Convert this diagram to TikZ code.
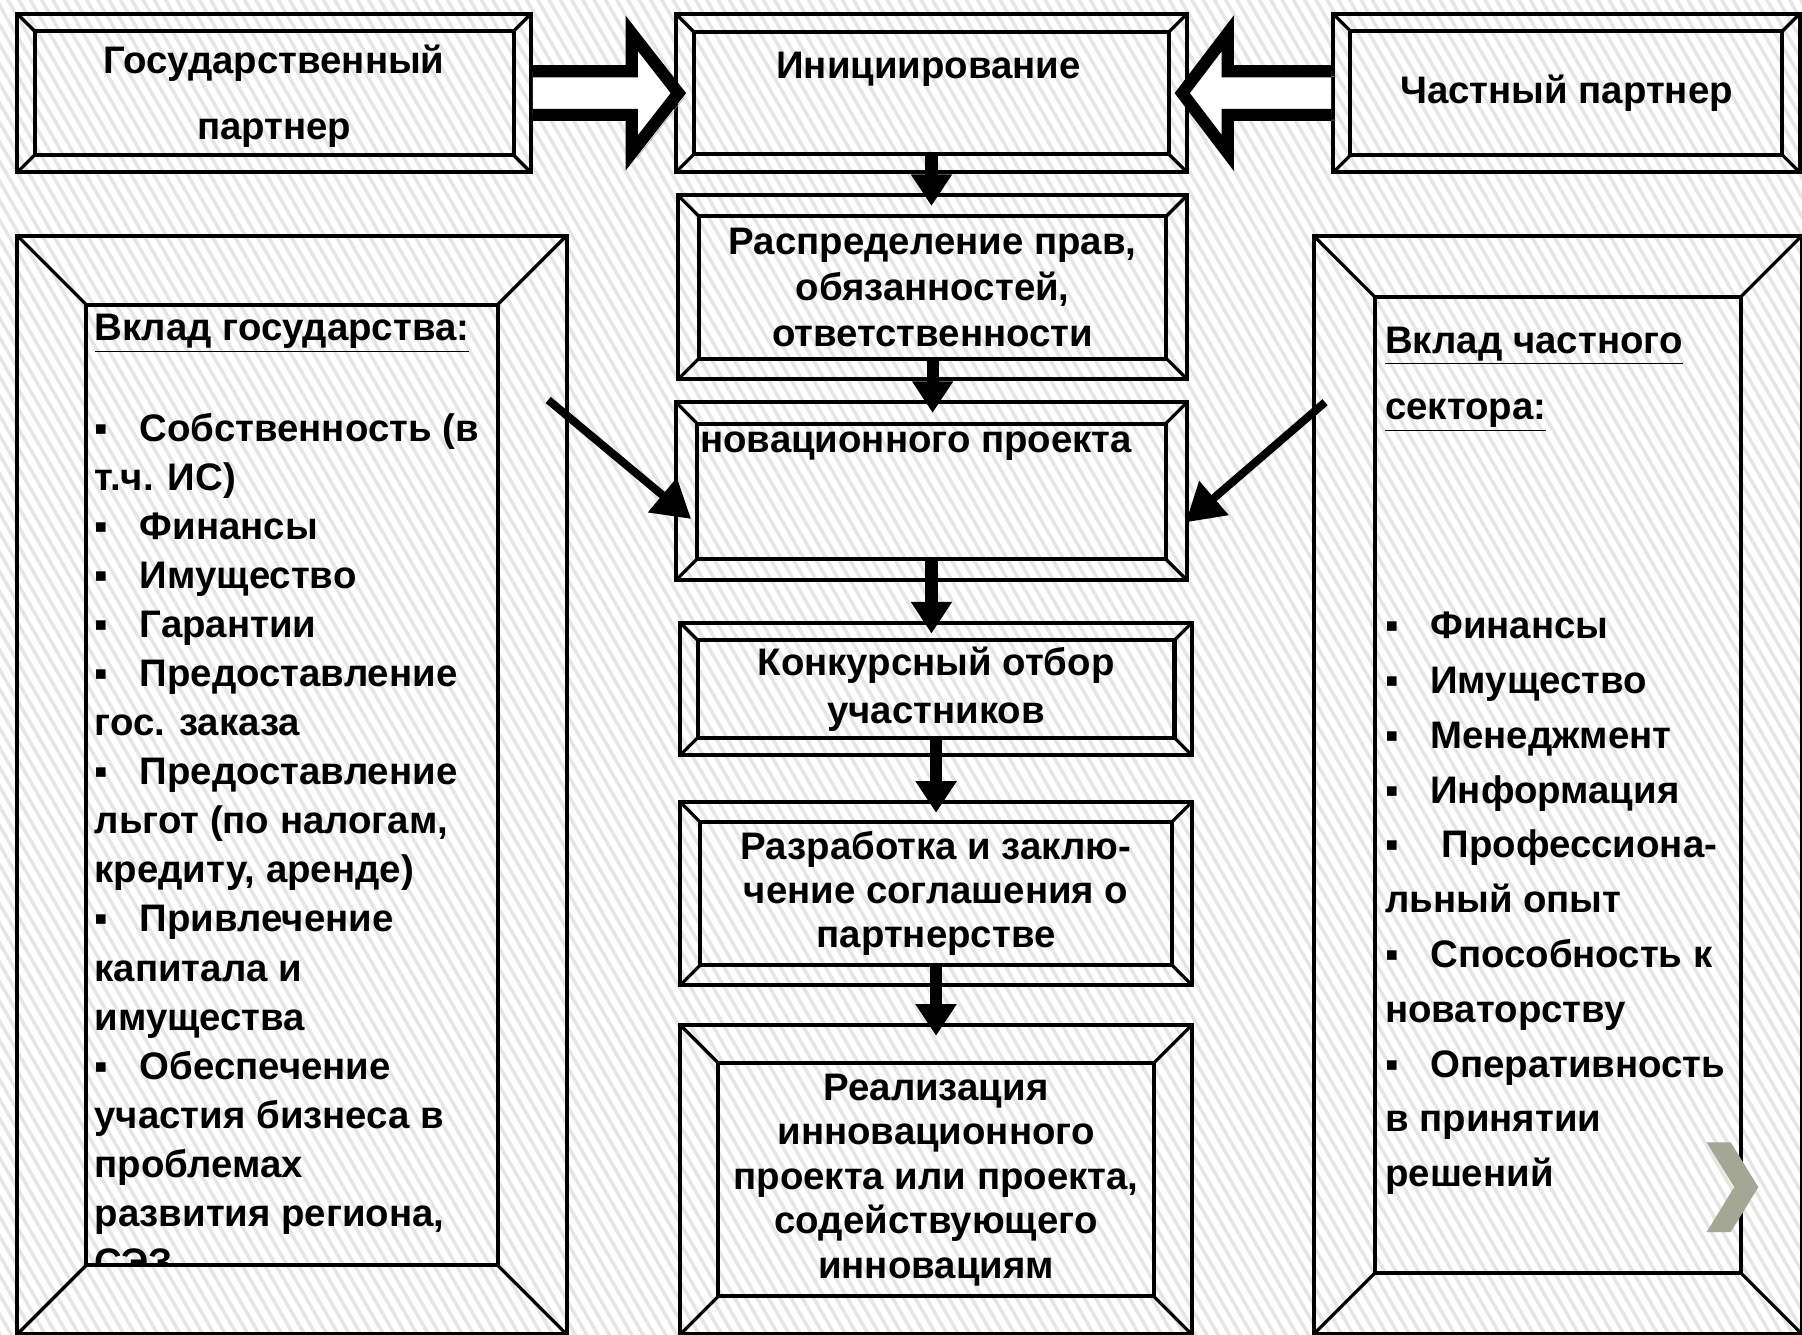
\documentclass[tikz,border=0pt]{standalone}
\usepackage{fontspec}
\setmainfont{Liberation Sans}
\usetikzlibrary{arrows.meta,patterns.meta}
\definecolor{chevron}{HTML}{A4A793}
\definecolor{shade}{HTML}{8C9BB4}
\newcommand{\blt}{▪\hspace{0.55cm}}

\begin{document}
\begin{tikzpicture}[x=0.02cm,y=-0.02cm,
	txt/.style={font=\bfseries\fontsize{19pt}{#1}\selectfont},
	bevelbox/.style={draw, line width=2pt, inner sep=0pt, align=center,
		path picture={
			\draw[line width=2pt] ([shift={(#1,#1)}]path picture bounding box.south west) rectangle ([shift={(-#1,-#1)}]path picture bounding box.north east);
			\draw[line width=1.6pt] (path picture bounding box.south west) -- ++(#1,#1)
				(path picture bounding box.north east) -- ++(-#1,-#1)
				(path picture bounding box.north west) -- ++(#1,-#1)
				(path picture bounding box.south east) -- ++(-#1,#1);}},
	downarrow/.style={line width=6pt, -{Triangle[width=0.68cm,length=0.55cm]}},
	diagarrow/.style={line width=4pt, -{Triangle[width=0.75cm,length=0.65cm]}},
	hollowarrow/.style={draw, line width=6pt, fill=white, line join=miter,
		preaction={draw=shade, opacity=0.6, transform canvas={shift={(0.09cm,-0.09cm)}}}}]

	\useasboundingbox (0,0) rectangle (1568,1161);
	\fill[white] (0,0) rectangle (1568,1161);
	\fill[pattern={Lines[angle=-60,distance=0.17cm,line width=0.06cm]}, pattern color=gray!20] (0,0) rectangle (1568,1161);

	% top row
	\node[bevelbox=0.3cm, minimum width=8.94cm, minimum height=2.76cm, txt=1.16cm] (gos) at (238.5,81) {\rule{0pt}{0.6cm}Государственный\\партнер};
	\node[bevelbox=0.32cm, minimum width=8.9cm, minimum height=2.76cm] (ini) at (810.5,81) {};
	\node[txt=0.8cm] (tIni) at (808,60) {Инициирование};
	\node[bevelbox=0.3cm, minimum width=8.12cm, minimum height=2.76cm, txt=0.8cm] (priv) at (1363,81) {Частный партнер};

	% middle column
	\node[bevelbox=0.36cm, minimum width=8.86cm, minimum height=3.2cm, txt=0.8cm] (rasp) at (811.5,250) {Распределение прав,\\обязанностей,\\ответственности};
	\node[bevelbox=0.37cm, minimum width=8.9cm, minimum height=3.1cm] (nov) at (810.5,427.5) {};
	\node[txt=0.8cm, anchor=base west, inner sep=0pt] (tNov) at (609,394) {новационного проекта};
	\node[bevelbox=0.3cm, minimum width=8.9cm, minimum height=2.3cm, txt=0.84cm] (konk) at (814.5,599.5) {Конкурсный отбор\\участников};
	\node[bevelbox=0.34cm, minimum width=8.9cm, minimum height=3.18cm, txt=0.77cm] (razr) at (814.5,777.5) {Разработка и заклю-\\чение соглашения о\\партнерстве};
	\node[bevelbox=0.66cm, minimum width=8.9cm, minimum height=5.38cm, txt=0.775cm] (real) at (814.5,1026.5) {Реализация\\инновационного\\проекта или проекта,\\содействующего\\инновациям};

	% side boxes
	\node[bevelbox=1.2cm, minimum width=9.56cm, minimum height=19.12cm] (gosVk) at (254,683) {};
	\node[bevelbox=1.06cm, minimum width=8.5cm, minimum height=19.12cm] (privVk) at (1355.5,683) {};
	\begin{scope}
		\clip (78,263) rectangle (433,1100);
		\node[txt=0.854cm, anchor=north west, align=left, inner sep=0pt] (tGosVk) at (82,273) {\underline{Вклад государства:}\\[0.9cm]
			\blt Собственность (в\\
			т.ч. ИС)\\
			\blt Финансы\\
			\blt Имущество\\
			\blt Гарантии\\
			\blt Предоставление\\
			гос. заказа\\
			\blt Предоставление\\
			льгот (по налогам,\\
			кредиту, аренде)\\
			\blt Привлечение\\
			капитала и\\
			имущества\\
			\blt Обеспечение\\
			участия бизнеса в\\
			проблемах\\
			развития региона,\\
			СЭЗ};
	\end{scope}
	\node[txt=0.954cm, anchor=north west, align=left, inner sep=0pt] (tPrivVk) at (1205,284) {\underline{Вклад частного}\\[0.2cm]
		\underline{сектора:}\\[2.86cm]
		\blt Финансы\\
		\blt Имущество\\
		\blt Менеджмент\\
		\blt Информация\\
		\blt\hspace{0.2cm}Профессиона-\\
		льный опыт\\
		\blt Способность к\\
		новаторству\\
		\blt Оперативность\\
		в принятии\\
		решений};

	% arrows
	\draw[hollowarrow] ([shift={(0,-19)}]gos.east) -- ++(86,0) -- ++(0,-33) -- ([xshift=0.08cm]ini.west) -- ([shift={(86,52)}]gos.east) -- ++(0,-33) -- ([shift={(0,19)}]gos.east);
	\draw[hollowarrow] ([shift={(0,-19)}]priv.west) -- ++(-90,0) -- ++(0,-33) -- ([xshift=-0.12cm]ini.east) -- ([shift={(-90,52)}]priv.west) -- ++(0,-33) -- ([shift={(0,19)}]priv.west);

	\foreach \a/\b/\s in {ini/rasp/0.32cm, rasp/nov/0.36cm, nov/konk/0.37cm, konk/razr/0.3cm, razr/real/0.34cm}
		\draw[downarrow] ([yshift=\s]\a.south) -- ([yshift=-0.22cm]\b.north -| \a.south);

	\coordinate (gIn) at (477,348);
	\coordinate (pIn) at (1153,350);
	\draw[diagarrow] (gIn) -- ([shift={(15,24)}]nov.west);
	\draw[diagarrow] (pIn) -- ([shift={(-3,27)}]nov.east);

	\fill[chevron] (1485,994) -- (1506,994) -- (1530,1033) -- (1506,1072) -- (1485,1072) -- (1509,1033) -- cycle;
\end{tikzpicture}
\end{document}
